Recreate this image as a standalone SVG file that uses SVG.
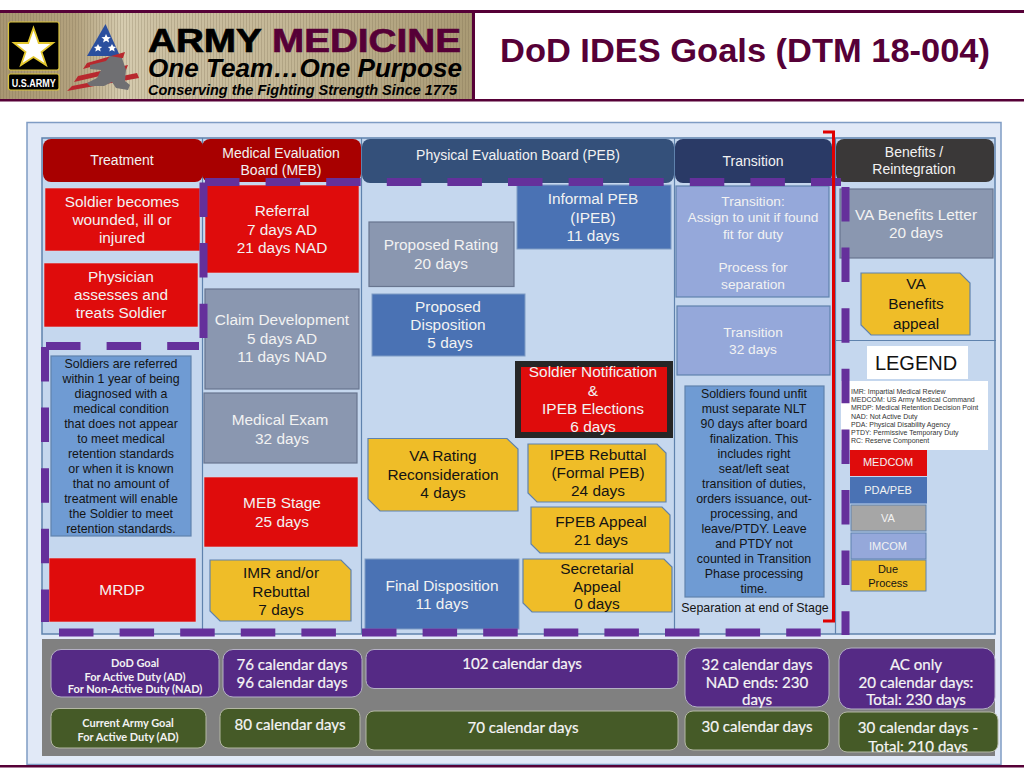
<svg xmlns="http://www.w3.org/2000/svg" width="1024" height="777" viewBox="0 0 1024 777">
<style>
text{font-family:"Liberation Sans",Arial,sans-serif;text-anchor:middle}
.w{fill:#f2f2f2}.k{fill:#141414}
.s{font-size:15.4px}.h{font-size:14px;fill:#f2f2f2}.m{font-size:13.7px}.p{font-size:12.4px;fill:#141414}
.l{font-size:7px;fill:#333;text-anchor:start}.g{font-size:11px}
.c{font-family:Lato,"Open Sans",sans-serif;font-size:15.1px;fill:#f5f5f5;stroke:#f5f5f5;stroke-width:.2}
.cs{font-family:Lato,"Open Sans",sans-serif;font-size:11px;font-weight:700;fill:#f2f2f2}
.red{fill:#df0c0c;stroke:#d9d9e6;stroke-width:.6}.slate{fill:#8a97b0;stroke:#68758f;stroke-width:1.2}
.blue{fill:#4a72b4;stroke:#7f9cc4;stroke-width:1}.peri{fill:#95a8da;stroke:#5f82ad;stroke-width:1.2}
.sky{fill:#6f9bd3;stroke:#5f82ad;stroke-width:1.2}.yel{fill:#efbd28;stroke:#5f82ad;stroke-width:1.2}
.pur{fill:#552a85;stroke:#b4b0c4;stroke-width:1}.grn{fill:#455a27;stroke:#b4b8a4;stroke-width:1}
.dash{fill:none;stroke:#65309b;stroke-width:8;stroke-dasharray:34.5 26.1}
.div{stroke:#5f82ad;stroke-width:1.2;fill:none}
</style>
<defs>
<linearGradient id="tan" x1="0" x2="1" y1="0" y2="0">
<stop offset="0" stop-color="#a89672"/><stop offset=".16" stop-color="#b3a27e"/><stop offset=".26" stop-color="#d6ccb0"/><stop offset=".33" stop-color="#cdc1a3"/><stop offset=".6" stop-color="#c4b796"/><stop offset="1" stop-color="#a99a74"/>
</linearGradient>
<pattern id="rib" width="3" height="4" patternUnits="userSpaceOnUse"><rect width="1" height="4" fill="#6d5f42" opacity=".22"/></pattern>
<clipPath id="cut"><rect x="839" y="712" width="159" height="41"/></clipPath>
</defs>
<rect width="1024" height="777" fill="#fff"/>
<g id="header">
<rect x="0" y="10" width="1024" height="3" fill="#560037"/>
<rect x="0" y="13" width="472" height="86" fill="url(#tan)"/>
<rect x="0" y="13" width="472" height="86" fill="url(#rib)"/>
<rect x="472" y="13" width="3" height="87" fill="#560037"/>
<rect x="0" y="99" width="1024" height="2.500" fill="#560037"/>
<rect x="8.500" y="22" width="50.500" height="48" rx="2" fill="#000" stroke="#d8c23a" stroke-width="1.200"/>
<polygon points="33.500,28 38.800,43 53,43 41.500,52 46,65 33.500,57 21,65 25.500,52 14,43 28.200,43" fill="#fff" stroke="#e3c72e" stroke-width="1.800"/>
<rect x="8.500" y="74" width="50.500" height="16" rx="2" fill="#000" stroke="#d8c23a" stroke-width="1.200"/>
<text x="33.700" y="86.500" font-size="10.500" font-weight="700" fill="#fff" textLength="44" lengthAdjust="spacingAndGlyphs">U.S.ARMY</text>
<polygon points="105.500,24 120,56 87,56" fill="#2b4f9e"/>
<path d="M106 34l1.500 3 3.300.3-2.500 2 .8 3.200-3-1.700-3 1.700.8-3.200-2.500-2 3.300-.3zM98 44l1.300 2.600 2.800.3-2.100 1.800.7 2.700-2.700-1.400-2.700 1.400.7-2.700-2.100-1.800 2.800-.3zM112 44l1.300 2.600 2.800.3-2.100 1.800.7 2.700-2.700-1.400-2.700 1.400.7-2.700-2.100-1.800 2.800-.3z" fill="#fff"/>
<path d="M125 52L87 63l-4 6 40-11zM128 65L78 76l-4 6 52-12zM137 73L72 86l-5 5 72-13z" fill="#b8282e"/>
<path d="M90 65l16-4 4-5 12 2 4 12-1 11 5 4-2 5-12-2-4-6-8 4h-14l-3-3 10-5 4-8-11-1z" fill="#6f6f72"/>
<rect x="475" y="13" width="549" height="86" fill="#fff"/>
<text x="304.500" y="52" font-size="34" font-weight="700" stroke-width=".7" textLength="313" lengthAdjust="spacingAndGlyphs"><tspan fill="#000" stroke="#000">ARMY </tspan><tspan fill="#560037" stroke="#560037">MEDICINE</tspan></text>
<text x="305" y="77" font-size="26" font-weight="700" font-style="italic" fill="#000" textLength="314" lengthAdjust="spacingAndGlyphs">One Team…One Purpose</text>
<text x="302.500" y="95" font-size="15" font-weight="700" font-style="italic" fill="#000" textLength="309" lengthAdjust="spacingAndGlyphs">Conserving the Fighting Strength Since 1775</text>
<text x="745" y="62" font-size="33.500" font-weight="700" fill="#560037" textLength="490" lengthAdjust="spacingAndGlyphs">DoD IDES Goals (DTM 18-004)</text>
</g>
<g id="panel">
<rect x="27" y="122.500" width="974" height="642" fill="#e1e9f7" stroke="#7f9cc4" stroke-width="1.500"/>
<rect x="42" y="138" width="953" height="496" fill="#c5d7ee" stroke="#5f82ad" stroke-width="1.500"/>
<path class="div" d="M202.500 138V634M361.500 138V634M674.500 138V634M835.500 138V634M835 340.500H996"/>
<rect x="42" y="639" width="953" height="117" fill="#808080"/>
<rect x="0" y="765" width="1024" height="2.500" fill="#560037"/>
</g>
<g id="treatment-head"><rect x="43" y="139" width="160" height="43" rx="8" fill="#a80000"/><text class="h" x="122" y="165">Treatment</text></g>
<g id="meb-head"><rect x="202" y="139" width="159" height="43" rx="8" fill="#a80000"/><text class="h" x="281" y="158">Medical Evaluation</text><text class="h" x="281" y="175">Board (MEB)</text></g>
<g id="peb-head"><rect x="362" y="139" width="312" height="44" rx="8" fill="#34507a"/><text class="h" x="518" y="160">Physical Evaluation Board (PEB)</text></g>
<g id="transition-head"><rect x="675" y="139" width="157" height="44" rx="8" fill="#2a3a66"/><text class="h" x="753" y="166">Transition</text></g>
<g id="benefits-head"><rect x="836" y="139" width="158" height="43" rx="8" fill="#3a3838"/><text class="h" x="914" y="157">Benefits /</text><text class="h" x="914" y="174">Reintegration</text></g>

<g id="wounded"><rect class="red" x="45" y="188" width="155" height="63"/><text class="s w" x="122" y="206.500">Soldier becomes</text><text class="s w" x="122" y="225">wounded, ill or</text><text class="s w" x="122" y="243">injured</text></g>
<g id="physician"><rect class="red" x="44" y="263" width="154" height="64"/><text class="s w" x="121" y="282">Physician</text><text class="s w" x="121" y="300">assesses and</text><text class="s w" x="121" y="318">treats Soldier</text></g>
<g id="referred"><rect class="sky" x="51" y="356" width="140" height="180"/>
<text class="p" x="121" y="367.500">Soldiers are referred</text><text class="p" x="121" y="382.500">within 1 year of being</text><text class="p" x="121" y="397.500">diagnosed with a</text><text class="p" x="121" y="413">medical condition</text><text class="p" x="121" y="428">that does not appear</text><text class="p" x="121" y="443">to meet medical</text><text class="p" x="121" y="458">retention standards</text><text class="p" x="121" y="473">or when it is known</text><text class="p" x="121" y="488">that no amount of</text><text class="p" x="121" y="503">treatment will enable</text><text class="p" x="121" y="518">the Soldier to meet</text><text class="p" x="121" y="533">retention standards.</text></g>
<g id="mrdp"><rect class="red" x="49" y="558" width="147" height="64"/><text class="s w" x="122" y="595">MRDP</text></g>

<g id="referral"><rect class="red" x="205" y="185" width="154" height="88"/><text class="s w" x="282" y="216">Referral</text><text class="s w" x="282" y="235">7 days AD</text><text class="s w" x="282" y="253">21 days NAD</text></g>
<g id="claim"><rect class="slate" x="205" y="289" width="154" height="100"/><text class="s w" x="282" y="325">Claim Development</text><text class="s w" x="282" y="344">5 days AD</text><text class="s w" x="282" y="362">11 days NAD</text></g>
<g id="exam"><rect class="slate" x="204" y="393" width="153" height="70"/><text class="s w" x="280" y="425">Medical Exam</text><text class="s w" x="282" y="444">32 days</text></g>
<g id="meb-stage"><rect class="red" x="204" y="477" width="154" height="70"/><text class="s w" x="282" y="508">MEB Stage</text><text class="s w" x="282" y="527">25 days</text></g>
<g id="imr"><polygon class="yel" points="210,560 341,560 351,570 351,621 220,621 210,611"/><text class="s k" x="281" y="578">IMR and/or</text><text class="s k" x="281" y="597">Rebuttal</text><text class="s k" x="281" y="615">7 days</text></g>

<g id="ipeb"><rect class="blue" x="517" y="185" width="154" height="64"/><text class="s w" x="593" y="204">Informal PEB</text><text class="s w" x="593" y="223">(IPEB)</text><text class="s w" x="593" y="241">11 days</text></g>
<g id="rating"><rect class="slate" x="369" y="222" width="145" height="64.500"/><text class="s w" x="441" y="250">Proposed Rating</text><text class="s w" x="441" y="269">20 days</text></g>
<g id="disposition"><rect class="blue" x="372" y="294" width="153" height="62"/><text class="s w" x="448" y="312">Proposed</text><text class="s w" x="448" y="330">Disposition</text><text class="s w" x="450" y="348">5 days</text></g>
<g id="notification"><rect x="518" y="364" width="152" height="71" fill="#df0c0c" stroke="#262626" stroke-width="6"/><text class="s w" x="593" y="377">Soldier Notification</text><text class="s w" x="593" y="396">&amp;</text><text class="s w" x="593" y="414">IPEB Elections</text><text class="s w" x="593" y="432">6 days</text></g>
<g id="va-rating"><polygon class="yel" points="368,438.500 507,438.500 518,449 518,511 380,511 368,499"/><text class="s k" x="443" y="461">VA Rating</text><text class="s k" x="443" y="480">Reconsideration</text><text class="s k" x="443" y="498">4 days</text></g>
<g id="rebuttal"><polygon class="yel" points="528,444 657,444 666,453 666,502 537,502 528,493"/><text class="s k" x="598" y="460">IPEB Rebuttal</text><text class="s k" x="598" y="478">(Formal PEB)</text><text class="s k" x="598" y="496">24 days</text></g>
<g id="fpeb"><polygon class="yel" points="531,507 662,507 670,515 670,553 540,553 531,544"/><text class="s k" x="601" y="527">FPEB Appeal</text><text class="s k" x="601" y="545">21 days</text></g>
<g id="secretarial"><polygon class="yel" points="523,559 664,559 672,567 672,612 532,612 523,603"/><text class="s k" x="597" y="574">Secretarial</text><text class="s k" x="597" y="592">Appeal</text><text class="s k" x="597" y="609">0 days</text></g>
<g id="final"><rect class="blue" x="365" y="559" width="154" height="70"/><text class="s w" x="442" y="591">Final Disposition</text><text class="s w" x="442" y="609">11 days</text></g>

<g id="transition-a"><rect class="peri" x="676" y="186" width="153" height="111"/><text class="m w" x="753" y="206">Transition:</text><text class="m w" x="753" y="222">Assign to unit if found</text><text class="m w" x="753" y="239">fit for duty</text><text class="m w" x="753" y="272">Process for</text><text class="m w" x="753" y="289">separation</text></g>
<g id="transition-b"><rect class="peri" x="677" y="306" width="153" height="69"/><text class="m w" x="753" y="337">Transition</text><text class="m w" x="753" y="354">32 days</text></g>
<g id="unfit"><rect class="sky" x="685" y="386" width="139" height="211"/>
<text class="p" x="754" y="398">Soldiers found unfit</text><text class="p" x="754" y="413">must separate NLT</text><text class="p" x="754" y="428">90 days after board</text><text class="p" x="754" y="443">finalization.  This</text><text class="p" x="754" y="458">includes right</text><text class="p" x="754" y="473">seat/left seat</text><text class="p" x="754" y="488">transition of duties,</text><text class="p" x="754" y="503">orders issuance, out-</text><text class="p" x="754" y="518">processing, and</text><text class="p" x="754" y="533">leave/PTDY.  Leave</text><text class="p" x="754" y="548">and PTDY not</text><text class="p" x="754" y="563">counted in Transition</text><text class="p" x="754" y="578">Phase processing</text><text class="p" x="754" y="592.500">time.</text></g>
<text class="p" x="755" y="612">Separation at end of Stage</text>

<g id="va-letter"><rect class="slate" x="840" y="189" width="153" height="69"/><text class="s w" x="916" y="220">VA Benefits Letter</text><text class="s w" x="916" y="238">20 days</text></g>
<g id="va-appeal"><polygon class="yel" points="861,273 960,273 970,283 970,335 871,335 861,325"/><text class="s k" x="916" y="289">VA</text><text class="s k" x="916" y="309">Benefits</text><text class="s k" x="916" y="329">appeal</text></g>

<g id="legend">
<rect x="867" y="346" width="101" height="33" fill="#fff"/><text x="916" y="370" font-size="20" fill="#111">LEGEND</text>
<rect x="841" y="381" width="147" height="69" fill="#fff"/>
<text class="l" x="851" y="393.500">IMR:  Impartial Medical Review</text><text class="l" x="851" y="402">MEDCOM: US Army Medical Command</text><text class="l" x="851" y="410">MRDP: Medical Retention Decision Point</text><text class="l" x="851" y="418.500">NAD:  Not Active Duty</text><text class="l" x="851" y="427">PDA: Physical Disability Agency</text><text class="l" x="851" y="435">PTDY: Permissive Temporary Duty</text><text class="l" x="851" y="443">RC: Reserve Component</text>
<rect x="850" y="450" width="77" height="26" fill="#df0c0c"/><text class="g w" x="888" y="466">MEDCOM</text>
<rect x="850" y="477" width="77" height="26.500" fill="#4a72b4"/><text class="g w" x="888" y="494">PDA/PEB</text>
<rect x="851" y="505" width="75" height="26" fill="#a6a6a6" stroke="#5f82ad"/><text class="g w" x="888" y="522">VA</text>
<rect x="851" y="533" width="75" height="26" fill="#95a8da" stroke="#5f82ad"/><text class="g w" x="888" y="550">IMCOM</text>
<rect x="851" y="560" width="75" height="31" fill="#efbd28" stroke="#5f82ad"/><text class="g k" x="888" y="573">Due</text><text class="g k" x="888" y="587">Process</text>
</g>

<g id="connectors">
<path class="dash" d="M45 347V622"/>
<path class="dash" d="M46 346H199"/>
<path class="dash" d="M203.500 182.500V338"/>
<path class="dash" d="M205 182H841"/>
<path class="dash" d="M845.500 187V635"/>
<path class="dash" d="M59 632.500H821"/>
<path d="M823 132H833.500V621H823" fill="none" stroke="#e00000" stroke-width="3"/>
</g>

<g id="goal-dod"><rect class="pur" x="51" y="649.500" width="168" height="47.500" rx="10"/><text class="cs" x="135" y="667">DoD Goal</text><text class="cs" x="135" y="681">For Active Duty (AD)</text><text class="cs" x="135" y="693">For Non-Active Duty (NAD)</text></g>
<g id="goal-meb"><rect class="pur" x="223" y="649.500" width="139" height="47.500" rx="10"/><text class="c" x="292" y="670">76 calendar days</text><text class="c" x="292" y="688">96 calendar days</text></g>
<g id="goal-peb"><rect class="pur" x="366" y="649.500" width="312" height="39" rx="8"/><text class="c" x="522" y="669">102 calendar days</text></g>
<g id="goal-trans"><rect class="pur" x="685" y="648" width="144" height="59" rx="12"/><text class="c" x="757" y="670">32 calendar days</text><text class="c" x="757" y="688">NAD ends: 230</text><text class="c" x="757" y="705">days</text></g>
<g id="goal-ben"><rect class="pur" x="839" y="648" width="156" height="61" rx="12"/><text class="c" x="916" y="670">AC only</text><text class="c" x="916" y="688">20 calendar days:</text><text class="c" x="916" y="705">Total: 230 days</text></g>
<g id="army-goal"><rect class="grn" x="51" y="708.500" width="155" height="39.500" rx="8"/><text class="cs" x="128" y="727">Current Army Goal</text><text class="cs" x="128" y="741">For Active Duty (AD)</text></g>
<g id="army-meb"><rect class="grn" x="220" y="708.500" width="140" height="39.500" rx="8"/><text class="c" x="290" y="730">80 calendar days</text></g>
<g id="army-peb"><rect class="grn" x="366" y="711" width="312" height="39" rx="8"/><text class="c" x="523" y="733">70 calendar days</text></g>
<g id="army-trans"><rect class="grn" x="685" y="711" width="144" height="39" rx="8"/><text class="c" x="757" y="732">30 calendar days</text></g>
<g id="army-ben"><rect class="grn" x="839" y="712" width="159" height="40" rx="8"/><text class="c" x="918" y="733">30 calendar days -</text><text class="c" x="918" y="752" clip-path="url(#cut)">Total: 210 days</text></g>
</svg>
